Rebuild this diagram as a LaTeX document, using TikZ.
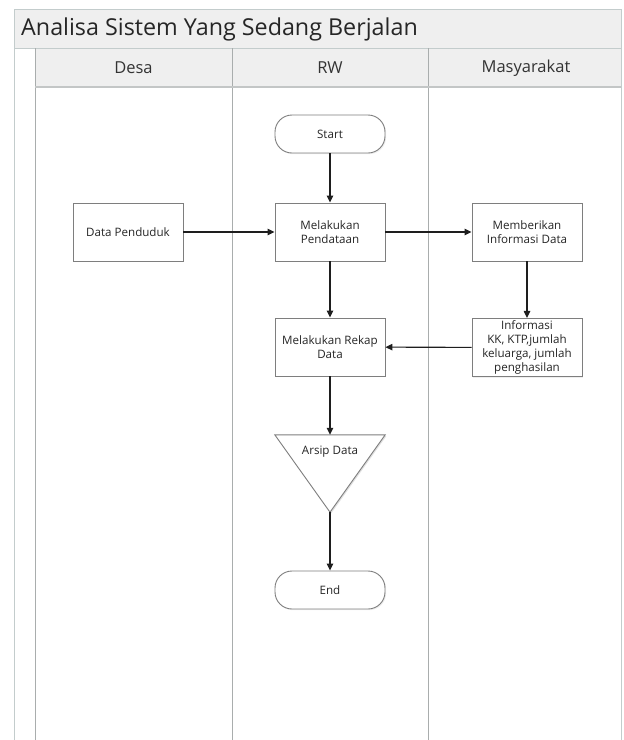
\documentclass[tikz,border=0pt]{standalone}
\usepackage{fontspec}
\setmainfont{Open Sans}
\usetikzlibrary{arrows.meta,shadows}
\definecolor{hdrfill}{HTML}{EFEFEF}
\definecolor{laneline}{HTML}{A9ADAD}
\definecolor{stripline}{HTML}{C3CCCC}
\definecolor{boxline}{HTML}{7E7E7E}
\definecolor{arrowc}{HTML}{1E1E1E}
\tikzset{
  procbox/.style={draw=boxline, line width=0.9pt, fill=white, minimum width=110pt, minimum height=58pt,
    inner sep=2pt, align=center, font=\fontsize{11.6}{14.2}\selectfont, text=black!85,
    drop shadow={opacity=0.12, shadow xshift=1.2pt, shadow yshift=-1.2pt}},
  termbox/.style={procbox, minimum height=38pt, rounded corners=17pt},
  flow/.style={draw=arrowc, line width=1.1pt, -{Triangle[length=7pt,width=6.5pt]}},
  lanehdr/.style={font=\fontsize{16.5}{19}\selectfont, text=black!80},
}
\begin{document}
\begin{tikzpicture}[x=1pt,y=-1pt]
\useasboundingbox (0,0) rectangle (624,740);
% frame
\fill[white] (0,0) rectangle (624,740);
\fill[hdrfill] (14,9) rectangle (621,48);
\fill[hdrfill] (35,48) rectangle (621,87);
\draw[stripline, line width=1pt] (14,740) -- (14,9) -- (621,9) -- (621,740);
\draw[stripline, line width=1pt] (14,48) -- (621,48);
\draw[laneline, line width=1pt] (35,48) -- (35,740);
\draw[laneline, line width=1pt] (232,48) -- (232,740);
\draw[laneline, line width=1pt] (428,48) -- (428,740);
\draw[laneline!70, line width=1.2pt] (35,87) -- (621,87);
\node[anchor=west, font=\fontsize{23.3}{26}\selectfont, text=black!85, inner sep=0pt] (title) at (21,29) {Analisa Sistem Yang Sedang Berjalan};
\node[lanehdr] (hdesa) at (133.5,68) {Desa};
\node[lanehdr] (hrw) at (330,68) {RW};
\node[lanehdr] (hmas) at (526,68) {Masyarakat};
% nodes
\node[termbox] (start) at (330,134) {Start};
\node[procbox] (data) at (128,232) {Data Penduduk};
\node[procbox] (pend) at (330,232) {Melakukan\\Pendataan};
\node[procbox] (beri) at (527,232) {Memberikan\\Informasi Data};
\node[procbox] (rekap) at (330,347) {Melakukan Rekap\\Data};
\node[procbox] (info) at (527,347.5) {Informasi\\KK, KTP,jumlah\\keluarga, jumlah\\penghasilan};
\node[minimum width=110pt, minimum height=77pt, inner sep=0pt] (arsip) at (330,473.5) {};
\fill[black!12] ([xshift=1.2pt,yshift=-1.2pt]arsip.north west) -- ([xshift=1.2pt,yshift=-1.2pt]arsip.north east) -- ([xshift=1.2pt,yshift=-1.2pt]arsip.south) -- cycle;
\draw[boxline, line width=0.9pt, fill=white] (arsip.north west) -- (arsip.north east) -- (arsip.south) -- cycle;
\node[font=\fontsize{11.6}{14.2}\selectfont, text=black!85] (arsiplbl) at (330,452) {Arsip Data};
\node[termbox] (end) at (330,590) {End};
% connectors
\draw[flow] (start) -- (pend);
\draw[flow] (data) -- (pend);
\draw[flow] (pend) -- (beri);
\draw[flow] (pend) -- (rekap);
\draw[flow] (beri) -- (info);
\draw[flow] (info) -- (rekap);
\draw[flow] (rekap) -- (arsip.north);
\draw[flow] (arsip.south) -- (end);
\end{tikzpicture}
\end{document}
